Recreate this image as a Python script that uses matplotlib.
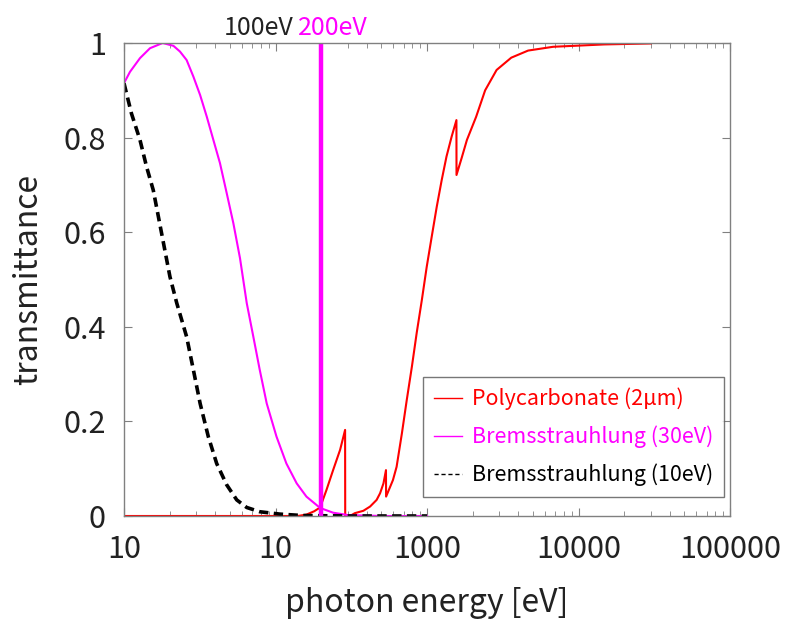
import numpy as np
import matplotlib.pyplot as plt
from matplotlib.lines import Line2D
from matplotlib.ticker import FixedLocator, LogLocator, NullFormatter

plt.rcParams['font.family'] = ['Noto Sans CJK JP', 'DejaVu Sans']

# Polycarbonate (2um) transmittance
pc_energy = [10, 100, 140, 160, 180, 197, 217, 240, 267, 288, 288.5, 310, 334, 380, 421,
             465, 490, 516, 536, 537, 596, 630, 683, 735, 795, 855, 925, 996, 1075,
             1160, 1250, 1345, 1454, 1564, 1566, 1690, 1834, 2110, 2420, 2880, 3600,
             4650, 6800, 14800, 30000]
pc_trans = [0, 0, 0, 0.003, 0.01, 0.018, 0.055, 0.097, 0.14, 0.182, 0.0, 0.0, 0.006,
            0.011, 0.02, 0.034, 0.048, 0.069, 0.097, 0.041, 0.076, 0.104, 0.175, 0.245,
            0.316, 0.387, 0.457, 0.527, 0.591, 0.654, 0.71, 0.76, 0.802, 0.837, 0.721,
            0.756, 0.795, 0.844, 0.9, 0.943, 0.969, 0.984, 0.992, 0.997, 0.999]

# Bremsstrahlung (30eV)
b30_energy = [10, 10.95, 12.75, 14.85, 18.0, 21.2, 23.4, 25.9, 28.7, 31.8, 35.2, 38.9,
              43.0, 47.6, 52.7, 58.3, 64.6, 71.4, 78.7, 87.5, 101.5, 118, 138, 160,
              197, 240, 300, 500, 1000]
b30_val = [0.915, 0.939, 0.968, 0.989, 1.0, 0.994, 0.982, 0.964, 0.929, 0.89, 0.844,
           0.795, 0.746, 0.683, 0.619, 0.545, 0.45, 0.379, 0.309, 0.238, 0.168, 0.111,
           0.069, 0.041, 0.017, 0.007, 0.002, 0.0, 0.0]

# Bremsstrahlung (10eV)
b10_energy = [10, 11.2, 12.75, 14.1, 15.6, 17.7, 20.1, 22.3, 25.9, 28.7, 31.8, 36.0,
              40.9, 47.6, 55.5, 64.6, 78.7, 107, 150, 300, 1000]
b10_val = [0.915, 0.851, 0.795, 0.738, 0.689, 0.598, 0.506, 0.45, 0.379, 0.309, 0.238,
           0.168, 0.111, 0.066, 0.034, 0.018, 0.009, 0.004, 0.001, 0.0, 0.0]

marker_energy = 200
xticks = [10, 100, 1000, 10000, 100000]
xtick_labels = ['10', '10', '1000', '10000', '100000']
yticks = [0, 0.2, 0.4, 0.6, 0.8, 1]
ytick_labels = ['0', '0.2', '0.4', '0.6', '0.8', '1']

fig = plt.figure(figsize=(7.89, 6.28), dpi=100)
ax = fig.add_axes([124 / 789, 112 / 628, 606 / 789, 473 / 628])

ax.plot(pc_energy, pc_trans, color='#ff0000', lw=1.5)
ax.plot(b30_energy, b30_val, color='#ff00ff', lw=1.5)
ax.plot(b10_energy, b10_val, color='black', lw=2.6, dashes=(2.6, 1.5))
ax.axvline(marker_energy, color='#ff00ff', lw=3.2)

ax.set_xscale('log')
ax.set_xlim(10, 100000)
ax.set_ylim(0, 1)
ax.xaxis.set_major_locator(FixedLocator(xticks))
ax.set_xticklabels(xtick_labels)
ax.xaxis.set_minor_locator(LogLocator(base=10, subs=np.arange(2, 10)))
ax.xaxis.set_minor_formatter(NullFormatter())
ax.set_yticks(yticks)
ax.set_yticklabels(ytick_labels)

for s in ax.spines.values():
    s.set_color('#808080')
    s.set_linewidth(1.0)
ax.tick_params(which='both', direction='in', top=True, right=True, color='#808080',
               labelsize=22, labelcolor='#222222')
ax.tick_params(which='major', length=6, pad=13)
ax.tick_params(which='minor', length=3.5)

ax.set_xlabel('photon energy [eV]', fontsize=23, color='#222222', labelpad=16)
ax.set_ylabel('transmittance', fontsize=23, color='#222222', labelpad=14)

ax.text(0.279, 1.005, '100eV', transform=ax.transAxes, ha='right', va='bottom',
        fontsize=18, color='#222222')
ax.text(0.287, 1.005, '200eV', transform=ax.transAxes, ha='left', va='bottom',
        fontsize=18, color='#ff00ff')

handles = [Line2D([], [], color='#ff0000', lw=1),
           Line2D([], [], color='#ff00ff', lw=1),
           Line2D([], [], color='black', lw=1, ls=(0, (3, 2)))]
labels = ['Polycarbonate (2μm)', 'Bremsstrauhlung (30eV)', 'Bremsstrauhlung (10eV)']
leg = ax.legend(handles, labels, loc='lower right', bbox_to_anchor=(0.99, 0.04),
                fontsize=15.5, frameon=True, fancybox=False, handlelength=1.3,
                handletextpad=0.45, labelspacing=0.72, borderpad=0.5, borderaxespad=0)
leg.get_frame().set_edgecolor('#555555')
leg.get_frame().set_linewidth(1.0)
for txt, c in zip(leg.get_texts(), ['#ff0000', '#ff00ff', 'black']):
    txt.set_color(c)

fig.savefig('out.png', dpi=100)
